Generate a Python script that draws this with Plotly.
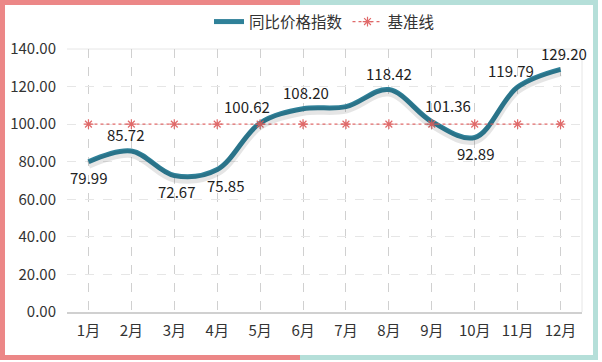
import plotly.graph_objects as go

months = ["1月", "2月", "3月", "4月", "5月", "6月", "7月", "8月", "9月", "10月", "11月", "12月"]
index_values = [79.99, 85.72, 72.67, 75.85, 100.62, 108.20, 109.3, 118.42, 101.36, 92.89, 119.79, 129.20]
label_text = ["79.99", "85.72", "72.67", "75.85", "100.62", "108.20", "", "118.42", "101.36", "92.89", "119.79", "129.20"]
baseline = [100] * 12
y_ticks = [0, 20, 40, 60, 80, 100, 120, 140]

# label placement (styling): vertical side and small horizontal nudges
label_side = [-1, 1, -1, -1, 1, 1, 1, 1, 1, -1, 1, 1]
label_dx = [0, -6, 2, 8, -13, 3, 0, 0, 16, 1, -7, 3]

FONT = "Noto Sans CJK SC, Microsoft YaHei, sans-serif"
LINE_COLOR = "#2F8199"
BASE_COLOR = "#E06A6A"

fig = go.Figure()

fig.add_trace(go.Scatter(
    x=months, y=index_values, mode="lines", yaxis="y2",
    line=dict(color="rgba(0,0,0,0.10)", width=8, shape="spline", smoothing=1.0),
    hoverinfo="skip", showlegend=False))

fig.add_trace(go.Scatter(
    x=months, y=index_values, mode="lines", name="同比价格指数",
    line=dict(color=LINE_COLOR, width=5, shape="spline", smoothing=1.0)))

fig.add_trace(go.Scatter(
    x=months, y=baseline, mode="lines+markers", name="基准线",
    line=dict(color=BASE_COLOR, width=1.2, dash="dot"),
    marker=dict(symbol="asterisk-open", size=8, color=BASE_COLOR, line=dict(width=1.2, color=BASE_COLOR))))

annotations = []
for m, v, t, s, dx in zip(months, index_values, label_text, label_side, label_dx):
    if not t:
        continue
    annotations.append(dict(x=m, y=v, text=t, showarrow=False, xshift=dx, yshift=16 * s,
                            font=dict(size=15, color="#222222", family=FONT)))

L, R, T, B = 67, 582, 49, 312   # plot area in pixels
FW, FH = 602, 362

RED = "#EC8787"
TEAL = "#B5DFD9"


def stripe(x0, x1, y0, y1, color):
    return dict(type="rect", xref="paper", yref="paper",
                xsizemode="pixel", ysizemode="pixel", xanchor=0, yanchor=0,
                x0=x0 - L, x1=x1 - L, y0=B - y1, y1=B - y0,
                fillcolor=color, line=dict(width=0), layer="above")


right, bottom, bw = 598, 360, 5
shapes = [
    stripe(-40, 300, -40, bw, RED), stripe(-40, bw, -40, bottom, RED), stripe(-40, 300, bottom - bw, bottom, RED),
    stripe(300, right, -40, bw, TEAL), stripe(right - bw, right, -40, bottom, TEAL),
    stripe(300, right, bottom - bw, bottom, TEAL),
    dict(type="line", xref="paper", yref="paper", x0=0, x1=1, y0=1, y1=1,
         line=dict(color="#E6E6E6", width=1), layer="below"),
    dict(type="line", xref="paper", yref="paper", x0=1, x1=1, y0=0, y1=1,
         line=dict(color="#E6E6E6", width=1), layer="below"),
]

fig.update_layout(
    width=FW, height=FH,
    margin=dict(l=L, r=FW - R, t=T, b=FH - B, autoexpand=False),
    paper_bgcolor="white", plot_bgcolor="white",
    font=dict(family=FONT, size=15, color="#333333"),
    showlegend=True,
    legend=dict(orientation="h", x=0.5, xanchor="center", y=1 - 22 / FH, yref="container", yanchor="middle",
                font=dict(size=15.5, color="#333333", family=FONT), bgcolor="rgba(0,0,0,0)",
                traceorder="normal", itemwidth=30),
    shapes=shapes,
    annotations=annotations,
    xaxis=dict(type="category", categoryorder="array", categoryarray=months, range=[-0.5, 11.5],
               showgrid=True, gridcolor="#D0D0D0", griddash="dash", gridwidth=1,
               showline=True, linecolor="#D0D0D0", linewidth=1.5, ticks="", ticklabelstandoff=4,
               tickfont=dict(size=15, color="#333333", family=FONT), fixedrange=True),
    yaxis=dict(range=[0, 140], tickvals=y_ticks, tickformat=".2f",
               showgrid=True, gridcolor="#E6E6E6", griddash="dash", gridwidth=1,
               zeroline=False, showline=False, ticks="", ticklabelstandoff=10,
               tickfont=dict(size=15, color="#333333", family=FONT)),
    yaxis2=dict(range=[1.6, 141.6], overlaying="y", visible=False),
)

fig.write_html("out.html", config={"displayModeBar": False})
